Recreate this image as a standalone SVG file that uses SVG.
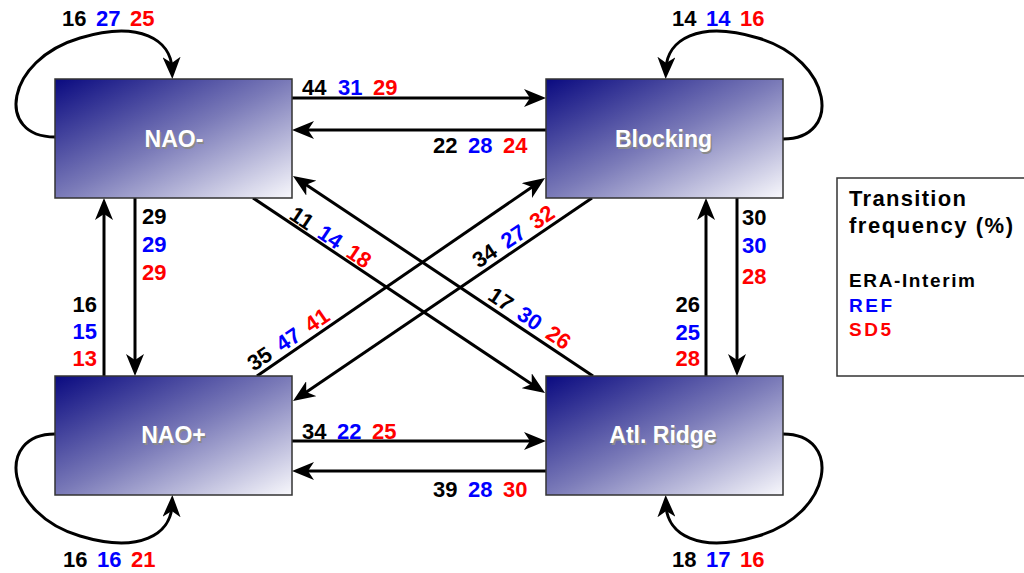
<svg xmlns="http://www.w3.org/2000/svg" width="1024" height="573" viewBox="0 0 1024 573">
<style>
.box{stroke:#333;stroke-width:1.5;fill:url(#g)}
.bl{font-family:"Liberation Sans",Arial,sans-serif;font-weight:bold;font-size:23px;text-anchor:middle}
.sh{fill:#8a8a8a}
.wt{fill:#fff}
.n{font-family:"Liberation Sans",Arial,sans-serif;font-weight:bold;font-size:22px}
.k{fill:#000}.b{fill:#0000ff}.r{fill:#ff0000}
.c{fill:none;stroke:#000;stroke-width:3;marker-end:url(#ah)}
.lg{font-family:"Liberation Sans",Arial,sans-serif;font-weight:bold}
</style>
<defs>
<linearGradient id="g" x1="0" y1="0" x2="1" y2="1">
<stop offset="0" stop-color="#0a0a80"/>
<stop offset="0.5" stop-color="#7a7ab8"/>
<stop offset="1" stop-color="#f8f8fc"/>
</linearGradient>
<marker id="ah" viewBox="0 0 22 18" refX="12" refY="9" markerWidth="22" markerHeight="18" markerUnits="userSpaceOnUse" orient="auto">
<path d="M0,0 L22,9 L0,18 L6,9 Z" fill="#000"/>
</marker>
</defs>
<rect width="1024" height="573" fill="#fff"/>

<g id="connectors">
<line class="c" x1="292" y1="98" x2="536" y2="98"/>
<line class="c" x1="546" y1="130" x2="302" y2="130"/>
<line class="c" x1="135" y1="198" x2="135" y2="366"/>
<line class="c" x1="104" y1="376" x2="104" y2="208"/>
<line class="c" x1="737" y1="198" x2="737" y2="366"/>
<line class="c" x1="706" y1="376" x2="706" y2="208"/>
<line class="c" x1="292" y1="441" x2="536" y2="441"/>
<line class="c" x1="546" y1="471" x2="302" y2="471"/>
<line class="c" x1="253" y1="198" x2="536.7" y2="387.4"/>
<line class="c" x1="593" y1="376" x2="301.3" y2="181.5"/>
<line class="c" x1="257" y1="376" x2="536.8" y2="183.7"/>
<line class="c" x1="592" y1="198" x2="301.3" y2="395.4"/>
<path class="c" d="M55,137 C-5,137 5,60 80,38 C140,20 171,40 172,69"/>
<path class="c" d="M783,139 C843,139 833,60 758,38 C698,20 667,40 666,69"/>
<path class="c" d="M55,434 C-5,434 5,514 80,536 C140,554 171,534 172,505"/>
<path class="c" d="M783,434 C843,434 833,514 758,536 C698,554 667,534 666,505"/>
</g>

<g id="labels" class="n">
<text y="26"><tspan class="k" x="62">16</tspan><tspan class="b" x="96">27</tspan><tspan class="r" x="130">25</tspan></text>
<text y="26"><tspan class="k" x="672">14</tspan><tspan class="b" x="706">14</tspan><tspan class="r" x="740">16</tspan></text>
<text y="567"><tspan class="k" x="63">16</tspan><tspan class="b" x="97">16</tspan><tspan class="r" x="131">21</tspan></text>
<text y="567"><tspan class="k" x="672">18</tspan><tspan class="b" x="706">17</tspan><tspan class="r" x="740">16</tspan></text>
<text y="95"><tspan class="k" x="302">44</tspan><tspan class="b" x="338">31</tspan><tspan class="r" x="373">29</tspan></text>
<text y="153"><tspan class="k" x="433">22</tspan><tspan class="b" x="468">28</tspan><tspan class="r" x="503">24</tspan></text>
<text y="439"><tspan class="k" x="302">34</tspan><tspan class="b" x="337">22</tspan><tspan class="r" x="372">25</tspan></text>
<text y="497"><tspan class="k" x="433">39</tspan><tspan class="b" x="468">28</tspan><tspan class="r" x="503">30</tspan></text>
<text><tspan class="k" x="142" y="224">29</tspan><tspan class="b" x="142" y="252">29</tspan><tspan class="r" x="142" y="280">29</tspan></text>
<text text-anchor="end"><tspan class="k" x="97" y="312">16</tspan><tspan class="b" x="97" y="339">15</tspan><tspan class="r" x="97" y="366">13</tspan></text>
<text><tspan class="k" x="742" y="225">30</tspan><tspan class="b" x="742" y="253">30</tspan><tspan class="r" x="742" y="284">28</tspan></text>
<text text-anchor="end"><tspan class="k" x="700" y="312">26</tspan><tspan class="b" x="700" y="340">25</tspan><tspan class="r" x="700" y="366">28</tspan></text>
<text text-anchor="middle" y="8" transform="translate(331,237) rotate(33.7)"><tspan class="k">11</tspan><tspan class="b" dx="4"> 14</tspan><tspan class="r" dx="4"> 18</tspan></text>
<text text-anchor="middle" y="8" transform="translate(530,318) rotate(33.7)"><tspan class="k">17</tspan><tspan class="b" dx="4"> 30</tspan><tspan class="r" dx="4"> 26</tspan></text>
<text text-anchor="middle" y="8" transform="translate(513,236) rotate(-34)"><tspan class="k">34</tspan><tspan class="b" dx="4"> 27</tspan><tspan class="r" dx="4"> 32</tspan></text>
<text text-anchor="middle" y="8" transform="translate(288,339) rotate(-34)"><tspan class="k">35</tspan><tspan class="b" dx="4"> 47</tspan><tspan class="r" dx="4"> 41</tspan></text>
</g>

<g id="nao-minus">
<rect class="box" x="55" y="79" width="237" height="119"/>
<text class="bl sh" x="175.5" y="148.5">NAO-</text>
<text class="bl wt" x="174" y="147">NAO-</text>
</g>
<g id="blocking">
<rect class="box" x="546" y="79" width="237" height="119"/>
<text class="bl sh" x="665" y="148.5">Blocking</text>
<text class="bl wt" x="663.5" y="147">Blocking</text>
</g>
<g id="nao-plus">
<rect class="box" x="55" y="376" width="237" height="119"/>
<text class="bl sh" x="175" y="444.5">NAO+</text>
<text class="bl wt" x="173.5" y="443">NAO+</text>
</g>
<g id="atl-ridge">
<rect class="box" x="546" y="376" width="237" height="119"/>
<text class="bl sh" x="664.5" y="444.5">Atl. Ridge</text>
<text class="bl wt" x="663" y="443">Atl. Ridge</text>
</g>

<g id="legend">
<rect x="837" y="178" width="200" height="198" fill="#fff" stroke="#333" stroke-width="1.5"/>
<text class="lg" x="849" y="206" font-size="22" textLength="117" lengthAdjust="spacing">Transition</text>
<text class="lg" x="849" y="233" font-size="22" textLength="164" lengthAdjust="spacing">frequency (%)</text>
<text class="lg" x="849" y="287" font-size="19" textLength="126" lengthAdjust="spacing">ERA-Interim</text>
<text class="lg b" x="849" y="312" font-size="19" textLength="43" lengthAdjust="spacing">REF</text>
<text class="lg r" x="849" y="336" font-size="19" textLength="42" lengthAdjust="spacing">SD5</text>
</g>
</svg>
